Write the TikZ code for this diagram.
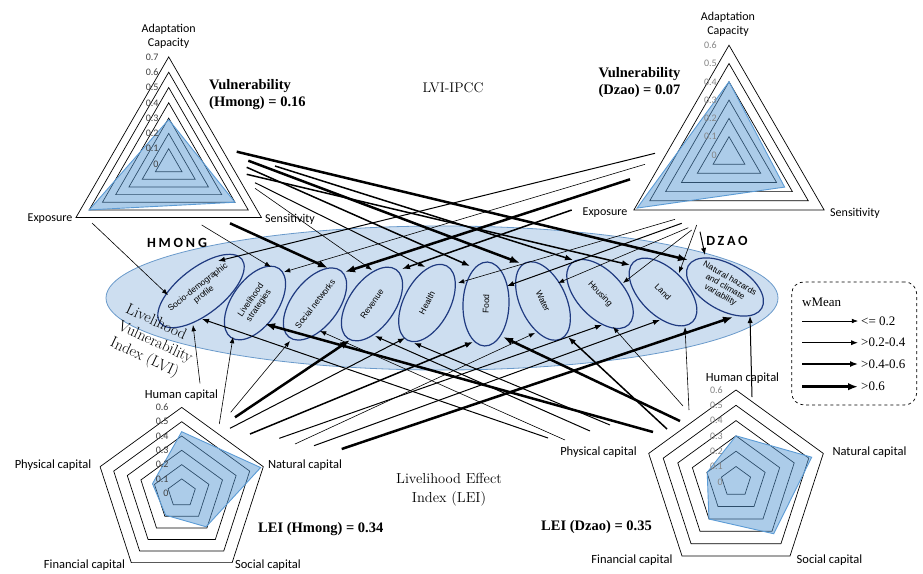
\documentclass[tikz,border=0pt]{standalone}
\usepackage{fontspec}
\usetikzlibrary{arrows.meta,shapes.geometric,calc}
\newfontfamily\calib{Carlito}
\newfontfamily\calibsp[LetterSpace=20]{Carlito}
\newfontfamily\arl{Liberation Sans}
\newfontfamily\tnr{Liberation Serif}
\definecolor{ellfill}{HTML}{CDDEF0}
\definecolor{ellbig}{HTML}{6A9ACB}
\definecolor{navy}{HTML}{1F3A80}
\definecolor{radar}{HTML}{5B9BD5}
\definecolor{tickdark}{HTML}{404040}
\definecolor{tickgray}{HTML}{858585}
\tikzset{
  w1/.style={line width=0.6pt},
  w2/.style={line width=1.0pt},
  w3/.style={line width=1.5pt},
  w4/.style={line width=2.5pt},
  conn/.style={-{Latex[length=5pt 2]}},
  inell/.style={draw=navy, line width=1.2pt, fill=ellfill, ellipse, minimum width=84pt, minimum height=46pt, inner sep=0pt, align=center, font=\arl\fontsize{8.5}{9.5}\selectfont},
  ring/.style={draw=black, line width=0.7pt},
  radarfill/.style={fill=radar, fill opacity=0.5, draw=radar, draw opacity=1, line width=0.9pt},
  axlab/.style={font=\calib\fontsize{12}{14}\selectfont, align=center, inner sep=0pt},
  pentlab/.style={font=\calib\fontsize{12.5}{14}\selectfont, align=center, inner sep=0pt},
  tick/.style={font=\calib\fontsize{10}{12}\selectfont, anchor=east, inner sep=0pt},
  boldlab/.style={font=\tnr\bfseries\fontsize{14.5}{17}\selectfont, align=left, inner sep=0pt},
  legtxt/.style={font=\tnr\fontsize{13}{15}\selectfont, anchor=west, inner sep=0pt},
}
\begin{document}
\begin{tikzpicture}[x=1pt,y=-1pt]
\useasboundingbox (0,0) rectangle (923,573);
\fill[white] (0,0) rectangle (923,573);

% ---------- big ellipse ----------
\node[ellipse, draw=ellbig, line width=0.8pt, fill=ellfill, minimum width=672pt, minimum height=144pt, inner sep=0pt] (lvi) at (442,298) {};

% ---------- inner ellipses ----------
\node[inell, rotate=38] (socio) at (201,291) {Socio-demographic\\profile};
\node[inell, rotate=55] (livel) at (255,303) {Livelihood\\strategies};
\node[inell, rotate=52] (socnet) at (315,304) {Social networks};
\node[inell, rotate=55] (rev) at (372,304) {Revenue};
\node[inell, rotate=62] (health) at (427,303) {Health};
\node[inell, rotate=88] (food) at (486,304) {Food};
\node[inell, rotate=-65] (water) at (543,301) {Water};
\node[inell, rotate=-47] (housing) at (600,294) {Housing};
\node[inell, rotate=-45] (land) at (663,292) {Land};
\node[inell, rotate=-30] (nh) at (725,287) {Natural hazards\\and climate\\variability};

% ---------- texts ----------
\node[font=\fontsize{15.5}{18.5}\selectfont, align=left, rotate=-25, inner sep=0pt] (lvitxt) at (155,343) {Livelihood\\Vulnerability\\Index (LVI)};
\node[font=\fontsize{14}{16}\selectfont, inner sep=0pt] (ipcc) at (453,88) {LVI-IPCC};
\node[font=\fontsize{14.5}{19}\selectfont, align=center, inner sep=0pt] (lei) at (449,490) {Livelihood Effect\\Index (LEI)};
\node[font=\calibsp\bfseries\fontsize{14}{16}\selectfont, inner sep=0pt] (hmong) at (177,243) {HMONG};
\node[font=\calibsp\bfseries\fontsize{14}{16}\selectfont, inner sep=0pt] (dzao) at (727,241) {DZAO};

% ---------- Hmong vulnerability triangle ----------
\begin{scope}[shift={(168.7,164)}]
  \foreach \k in {1,...,7} {\draw[ring] (90:{\k*15.3pt}) -- (210:{\k*15.3pt}) -- (330:{\k*15.3pt}) -- cycle;}
  \filldraw[radarfill] (90:44.4pt) -- (210:91.8pt) -- (330:76.5pt) -- cycle;
  \foreach \k/\t in {0/0,1/0.1,2/0.2,3/0.3,4/0.4,5/0.5,6/0.6,7/0.7} {\node[tick, text=tickdark] at (-10,{-\k*15.3}) {\t};}
\end{scope}
\node[axlab] (hac) at (168.7,36.5) {Adaptation\\Capacity};
\node[axlab] (hexp) at (50,219) {Exposure};
\node[axlab] (hsen) at (290,219) {Sensitivity};
\node[boldlab, anchor=west] (hvul) at (209,95) {Vulnerability\\(Hmong) = 0.16};

% ---------- Dzao vulnerability triangle ----------
\begin{scope}[shift={(729,155)}]
  \foreach \k in {1,...,6} {\draw[ring] (90:{\k*18.3pt}) -- (210:{\k*18.3pt}) -- (330:{\k*18.3pt}) -- cycle;}
  \filldraw[radarfill] (90:73.3pt) -- (210:106.2pt) -- (330:64.2pt) -- cycle;
  \foreach \k/\t in {0/0,1/0.1,2/0.2,3/0.3,4/0.4,5/0.5,6/0.6} {\node[tick, text=tickgray] at (-12,{-\k*18.3}) {\t};}
\end{scope}
\node[axlab] (dac) at (728,24) {Adaptation\\Capacity};
\node[axlab] (dexp) at (605,213) {Exposure};
\node[axlab] (dsen) at (855,213) {Sensitivity};
\node[boldlab, align=center] (dvul) at (639.5,83) {Vulnerability\\(Dzao) = 0.07};

% ---------- Hmong LEI pentagon ----------
\begin{scope}[shift={(181.7,493.2)}]
  \foreach \k in {1,...,6} {\draw[ring] (90:{\k*14.3pt}) -- (18:{\k*14.3pt}) -- (-54:{\k*14.3pt}) -- (-126:{\k*14.3pt}) -- (162:{\k*14.3pt}) -- cycle;}
  \filldraw[radarfill] (90:61.5pt) -- (18:83pt) -- (-54:41.5pt) -- (-126:27.2pt) -- (162:30.7pt) -- cycle;
  \foreach \k/\t in {0/0,1/0.1,2/0.2,3/0.3,4/0.4,5/0.5,6/0.6} {\node[tick, text=tickdark] at (-13,{-\k*14.3}) {\t};}
\end{scope}
\node[pentlab] (hhum) at (181.5,395) {Human capital};
\node[pentlab] (hnat) at (305,465) {Natural capital};
\node[pentlab] (hphy) at (53,465) {Physical capital};
\node[pentlab] (hfin) at (84.5,565) {Financial capital};
\node[pentlab] (hsoc) at (268,565) {Social capital};
\node[boldlab, anchor=west] (hlei) at (258,529) {LEI (Hmong) = 0.34};

% ---------- Dzao LEI pentagon ----------
\begin{scope}[shift={(736,481.8)}]
  \foreach \k in {1,...,6} {\draw[ring] (90:{\k*15.3pt}) -- (18:{\k*15.3pt}) -- (-54:{\k*15.3pt}) -- (-126:{\k*15.3pt}) -- (162:{\k*15.3pt}) -- cycle;}
  \filldraw[radarfill] (90:46pt) -- (18:79.6pt) -- (-54:64.2pt) -- (-126:46pt) -- (162:30.3pt) -- cycle;
  \foreach \k/\t in {0/0,1/0.1,2/0.2,3/0.3,4/0.4,5/0.5,6/0.6} {\node[tick, text=tickgray] at (-13,{-\k*15.3}) {\t};}
\end{scope}
\node[pentlab] (dhum) at (742.5,378) {Human capital};
\node[pentlab] (dnat) at (869.5,452) {Natural capital};
\node[pentlab] (dphy) at (598.5,452) {Physical capital};
\node[pentlab] (dfin) at (632,560) {Financial capital};
\node[pentlab] (dsoc) at (829.5,560) {Social capital};
\node[boldlab, anchor=west] (dlei) at (541,527) {LEI (Dzao) = 0.35};

% ---------- connectors: Hmong vulnerability ----------
\coordinate (hv1) at (236.7,151.7);
\coordinate (hv2) at (248.3,160.7);
\coordinate (hv3) at (275,166);
\coordinate (hv4) at (246.7,167.3);
\coordinate (hv5) at (246.7,174.3);
\coordinate (hv6) at (255,182.7);
\coordinate (hv7) at (255,188.3);
\coordinate (hv8) at (230,223.3);
\coordinate (hv9) at (201.7,225);
\coordinate (hv10) at (92,223);
\draw[conn,w4] (hv1) -- ($(nh)+(-37,-27)$);
\draw[conn,w4] (hv2) -- ($(water)+(-23,-38)$);
\draw[conn,w3] (hv3) -- ($(housing)+(-27,-34)$);
\draw[conn,w3] (hv4) -- ($(food)+(-16,-38)$);
\draw[conn,w3] (hv5) -- ($(land)+(-33,-27)$);
\draw[conn,w2] (hv6) -- ($(health)+(-2,-36)$);
\draw[conn,w1] (hv7) -- ($(rev)+(0,-34)$);
\draw[conn,w4] (hv8) -- ($(socnet)+(13,-36)$);
\draw[conn,w1] (hv9) -- ($(livel)+(16,-36)$);
\draw[conn,w1] (hv10) -- ($(socio)+(-33,4)$);

% ---------- connectors: Dzao vulnerability ----------
\coordinate (dv1) at (655,153.3);
\coordinate (dv2) at (645,164.3);
\coordinate (dv3) at (630,179.3);
\coordinate (dv4) at (571.7,210);
\coordinate (dv5) at (675,219.3);
\coordinate (dv6) at (681.7,223.3);
\coordinate (dv7) at (688.3,227.7);
\coordinate (dv8) at (691.7,230);
\coordinate (dv9) at (696.7,225);
\coordinate (dv10) at (700,231.7);
\draw[conn,w2] (dv1) -- ($(socio)+(17,-30)$);
\draw[conn,w1] (dv2) -- ($(livel)+(29,-31)$);
\draw[conn,w4] (dv3) -- ($(socnet)+(30,-32)$);
\draw[conn,w3] (dv4) -- ($(rev)+(30,-35)$);
\draw[conn,w1] (dv5) -- ($(health)+(31,-20)$);
\draw[conn,w2] (dv6) -- ($(food)+(21,-18)$);
\draw[conn,w1] (dv7) -- ($(water)+(15,-18)$);
\draw[conn,w1] (dv8) -- ($(housing)+(23,-11)$);
\draw[conn,w1] (dv9) -- ($(land)+(16,-19)$);
\draw[conn,w2] (dv10) -- ($(nh)+(-20,-32)$);

% ---------- connectors: Hmong LEI ----------
\coordinate (hl1) at (200,383.3);
\coordinate (hl2) at (219.3,424);
\coordinate (hl3) at (230.7,412.3);
\coordinate (hl4) at (235,417.3);
\coordinate (hl5) at (230,428.3);
\coordinate (hl6) at (250,434);
\coordinate (hl7) at (279.3,438.3);
\coordinate (hl8) at (295,444);
\coordinate (hl9) at (314,445.7);
\coordinate (hl10) at (341.7,449);
\draw[conn,w1] (hl1) -- ($(socio)+(-8,34)$);
\draw[conn,w1] (hl2) -- ($(livel)+(-22,34)$);
\draw[conn,w1] (hl3) -- ($(socnet)+(-25,37)$);
\draw[conn,w4] (hl4) -- ($(rev)+(-22,36)$);
\draw[conn,w2] (hl5) -- ($(health)+(-22,35)$);
\draw[conn,w3] (hl6) -- ($(food)+(-13,38)$);
\draw[conn,w2] (hl7) -- ($(housing)+(2,31)$);
\draw[conn,w1] (hl8) -- ($(water)+(-8,32)$);
\draw[conn,w2] (hl9) -- ($(land)+(-3,28)$);
\draw[conn,w4] (hl10) -- ($(nh)+(8,30)$);

% ---------- connectors: Dzao LEI ----------
\coordinate (dl1) at (548,438);
\coordinate (dl2) at (565,440);
\coordinate (dl3) at (590,431);
\coordinate (dl4) at (610,425);
\coordinate (dl5) at (653,432);
\coordinate (dl6) at (667,429);
\coordinate (dl7) at (680,421);
\coordinate (dl8) at (683,406);
\coordinate (dl9) at (689,410);
\coordinate (dl10) at (752,397);
\draw[conn,w2] (dl1) -- ($(socio)+(1,28)$);
\draw[conn,w1] (dl2) -- ($(socnet)+(5,27)$);
\draw[conn,w2] (dl3) -- ($(rev)+(3,32)$);
\draw[conn,w2] (dl4) -- ($(health)+(-13,40)$);
\draw[conn,w4] (dl5) -- ($(livel)+(10,21)$);
\draw[conn,w3] (dl6) -- ($(water)+(25,36)$);
\draw[conn,w4] (dl7) -- ($(food)+(17,33)$);
\draw[conn,w1] (dl8) -- ($(housing)+(13,33)$);
\draw[conn,w1] (dl9) -- ($(land)+(22,35)$);
\draw[conn,w2] (dl10) -- ($(nh)+(25,29)$);

% ---------- legend ----------
\node[draw, dashed, line width=0.7pt, rounded corners=12pt, minimum width=125pt, minimum height=123pt, inner sep=0pt] (legend) at (854.2,343.4) {};
\node[legtxt] (wmean) at (802,302) {wMean};
\coordinate (l1a) at (802,321); \coordinate (l1b) at (858,321);
\coordinate (l2a) at (802,342.7); \coordinate (l2b) at (858,342.7);
\coordinate (l3a) at (802,364); \coordinate (l3b) at (858,364);
\coordinate (l4a) at (802,386.7); \coordinate (l4b) at (858,386.7);
\draw[conn,w1] (l1a) -- (l1b);
\draw[conn,w2] (l2a) -- (l2b);
\draw[conn,w3] (l3a) -- (l3b);
\draw[conn,w4] (l4a) -- (l4b);
\node[legtxt] (t1) at (861,321) {<= 0.2};
\node[legtxt] (t2) at (861,342.7) {>0.2-0.4};
\node[legtxt] (t3) at (861,364) {>0.4-0.6};
\node[legtxt] (t4) at (861,386.7) {>0.6};
\end{tikzpicture}
\end{document}
